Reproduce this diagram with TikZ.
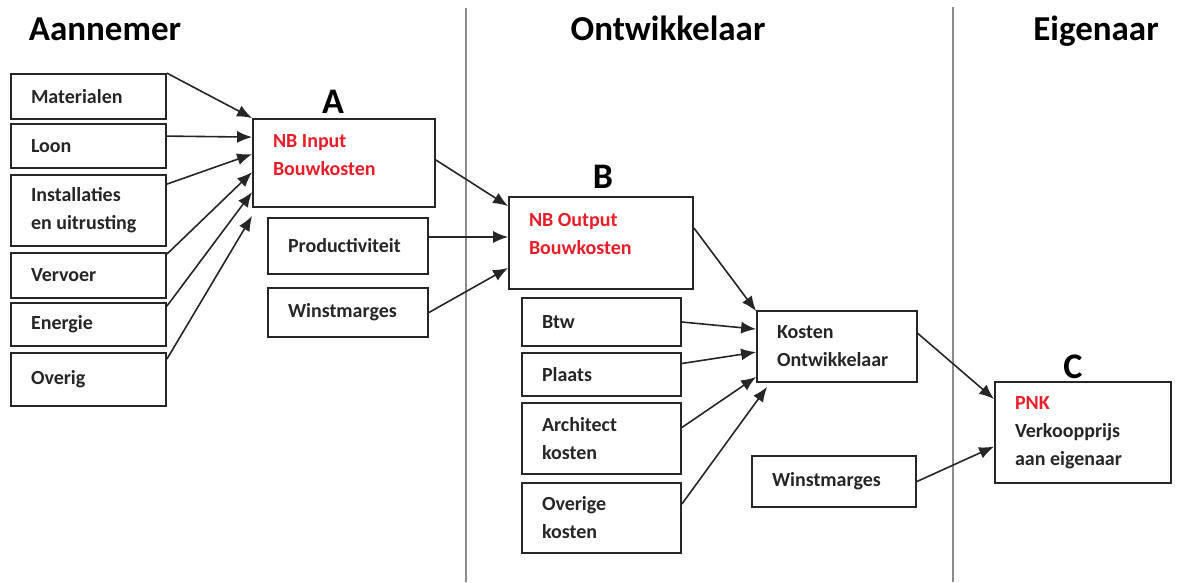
\documentclass[tikz,border=0pt]{standalone}
\usepackage{fontspec}
\setmainfont{Carlito}
\usetikzlibrary{positioning}
\usetikzlibrary{arrows.meta}
\definecolor{nbred}{RGB}{232,30,40}

\begin{document}
\begin{tikzpicture}[x=1pt,y=-1pt,
    post/.style={draw=black!85, line width=1.8pt, align=flush left, inner xsep=20pt, inner ysep=0pt,
      font=\bfseries\fontsize{20}{28}\selectfont, text=black!85},
    party/.style={font=\bfseries\fontsize{35}{40}\selectfont, anchor=base},
    letter/.style={font=\bfseries\fontsize{36}{40}\selectfont, anchor=base},
    arr/.style={-{Latex[length=15pt,width=12pt]}, line width=1.6pt, color=black!85}]
  \useasboundingbox (0,0) rectangle (1181,582);
  % scheidingslijnen
  \draw[black!45, line width=1.5pt] (466,8) -- (466,582);
  \draw[black!45, line width=1.5pt] (953,7) -- (953,582);
  % partijen
  \node[party] (aann) at (105,40) {Aannemer};
  \node[party] (ontw) at (668,40) {Ontwikkelaar};
  \node[party] (eig) at (1096,40) {Eigenaar};
  % aannemer
  \node[post, text width=115pt, minimum height=45pt] (mat) at (88.5,96.5) {Materialen};
  \node[post, text width=115pt, minimum height=44pt] (loon) at (88.5,146) {Loon};
  \node[post, text width=115pt, minimum height=71pt] (inst) at (88.5,210.5) {Installaties\\en uitrusting};
  \node[post, text width=115pt, minimum height=45pt] (verv) at (88.5,275.5) {Vervoer};
  \node[post, text width=115pt, minimum height=43pt] (ener) at (88.5,324.5) {Energie};
  \node[post, text width=115pt, minimum height=53pt] (over) at (88.5,379.5) {Overig};
  \node[post, text width=142pt, minimum height=88pt, text=nbred] (a) at (344,163) {NB Input\\Bouwkosten\\[-12pt]\mbox{}};
  \node[letter] (la) at (333,113) {A};
  \node[post, text width=120pt, minimum height=56pt] (prod) at (348,246) {Productiviteit};
  \node[post, text width=120pt, minimum height=49pt] (winsta) at (348,312.5) {Winstmarges};
  % ontwikkelaar
  \node[post, text width=144pt, minimum height=92pt, text=nbred] (b) at (601,243) {NB Output\\Bouwkosten\\[-10pt]\mbox{}};
  \node[letter] (lb) at (603,188) {B};
  \node[post, text width=119pt, minimum height=48pt] (btw) at (601.5,322) {Btw};
  \node[post, text width=119pt, minimum height=43pt] (plaats) at (601.5,374.5) {Plaats};
  \node[post, text width=119pt, minimum height=71pt] (arch) at (601.5,438.5) {Architect\\kosten};
  \node[post, text width=119pt, minimum height=70pt] (overk) at (601.5,518) {Overige\\kosten};
  \node[post, text width=120pt, minimum height=71pt] (kost) at (837,346.5) {Kosten\\Ontwikkelaar};
  \node[post, text width=124pt, minimum height=51pt] (winstb) at (834,481.5) {Winstmarges};
  % eigenaar
  \node[post, text width=136pt, minimum height=101pt] (c) at (1083,432.5) {\textcolor{nbred}{PNK}\\Verkoopprijs\\aan eigenaar};
  \node[letter] (lc) at (1073,378) {C};
  % pijlen
  \path[arr]
    (mat.north east) edge (a.north west)
    ([yshift=-13pt]loon.north east) edge ([yshift=-19pt]a.north west)
    ([yshift=-10pt]inst.north east) edge ([yshift=-36pt]a.north west)
    ([yshift=-2pt]verv.north east) edge ([yshift=-54pt]a.north west)
    ([yshift=-4pt]ener.north east) edge ([yshift=-74pt]a.north west)
    ([yshift=-7pt]over.north east) edge ([yshift=-8pt]a.south west)
    ([yshift=3pt]a.east) edge ([yshift=-10pt]b.north west)
    ([yshift=9pt]prod.east) edge ([yshift=9pt]prod.east -| b.west)
    (winsta.east) edge ([yshift=22pt]b.south west)
    ([yshift=15pt]b.east) edge ([yshift=-1pt]kost.north west)
    (btw.east) edge ([yshift=-19pt]kost.north west)
    ([yshift=11pt]plaats.east) edge ([yshift=-42pt]kost.north west)
    ([yshift=11pt]arch.east) edge ([yshift=6pt]kost.south west)
    ([yshift=14pt]overk.east) edge ([xshift=11pt,yshift=-4pt]kost.south west)
    ([yshift=13pt]kost.east) edge ([yshift=-18pt]c.north west)
    (winstb.east) edge ([yshift=-14pt]c.west);
\end{tikzpicture}
\end{document}
